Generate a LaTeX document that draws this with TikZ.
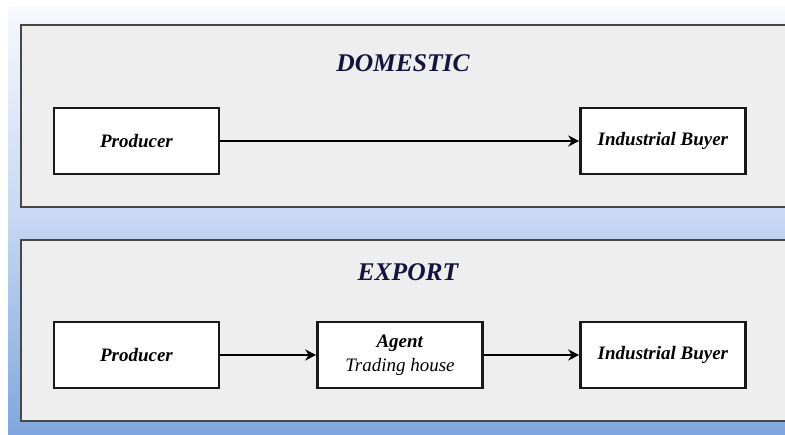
\documentclass[tikz,border=0pt]{standalone}
\usepackage{fontspec}
\setmainfont{Liberation Serif}
\usetikzlibrary{arrows.meta}
\definecolor{navy}{HTML}{14143F}
\definecolor{panelgray}{HTML}{EEEEEE}
\definecolor{bgtop}{HTML}{F7F9FC}
\definecolor{bgmid}{HTML}{C4D7F2}
\definecolor{bgbot}{HTML}{7FA6DE}
\tikzset{
  panel/.style={draw=black!72, line width=2.2pt, fill=panelgray},
  flowbox/.style={draw=black!90, line width=2.6pt, fill=white, minimum width=165pt, minimum height=66pt, inner sep=0pt, align=center, font=\fontsize{19}{21}\selectfont},
  title/.style={text=navy, font=\fontsize{25.5}{28}\selectfont\bfseries\itshape},
  flow/.style={line width=2.1pt, -{Stealth[length=11pt,width=11pt]}}
}
\begin{document}
\begin{tikzpicture}[x=1pt,y=-1pt]
\useasboundingbox (0,0) rectangle (785,435);
\fill[white] (0,0) rectangle (785,435);
\shade[top color=bgtop, bottom color=bgbot, middle color=bgmid] (8,8) rectangle (785,435);
\draw[panel] (21,25) rectangle (787,207);
\draw[panel] (21,240) rectangle (787,421);
\node[title] (tdom) at (403,63) {DOMESTIC};
\node[title] (texp) at (408,272) {EXPORT};
\node[flowbox] (p1) at (136.5,141) {\textbf{\itshape Producer}};
\node[flowbox] (b1) at (663,141) {\textbf{\itshape Industrial Buyer}};
\node[flowbox] (p2) at (136.5,355) {\textbf{\itshape Producer}};
\node[flowbox] (ag) at (400,355) {\textbf{\itshape Agent}\\[3pt]\itshape Trading house};
\node[flowbox] (b2) at (663,355) {\textbf{\itshape Industrial Buyer}};
\draw[flow] (p1) -- (b1);
\draw[flow] (p2) -- (ag);
\draw[flow] (ag) -- (b2);
\end{tikzpicture}
\end{document}
